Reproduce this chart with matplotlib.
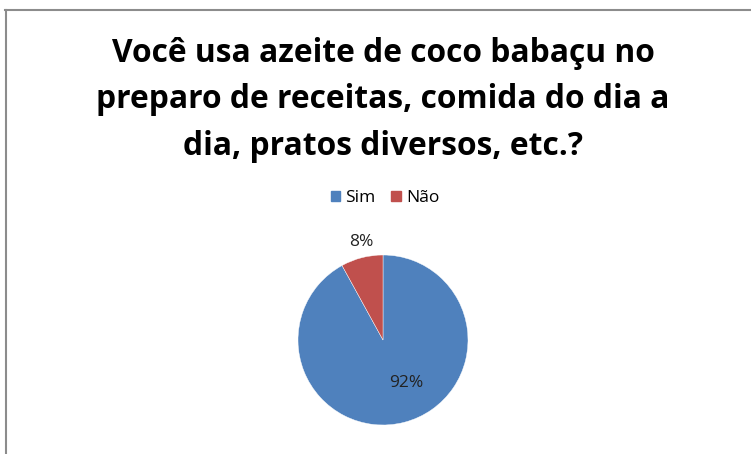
import matplotlib
matplotlib.use("Agg")
import matplotlib.pyplot as plt
from matplotlib.patches import Patch
from matplotlib.lines import Line2D

categories = ["Sim", "Não"]
values = [92, 8]
colors = ["#4F81BD", "#C0504D"]
title = "Você usa azeite de coco babaçu no\npreparo de receitas, comida do dia a\ndia, pratos diversos, etc.?"

W, H = 751, 454
fig = plt.figure(figsize=(W/100, H/100), dpi=100)
fig.patch.set_facecolor("white")

# border lines (top and left)
fig.add_artist(Line2D([5/W, 1], [1-10/H, 1-10/H], color="#8c8c8c", lw=1.5))
fig.add_artist(Line2D([6/W, 6/W], [0, 1-10/H], color="#8c8c8c", lw=1.5))

fig.text(383/W, 1-100/H, title, ha="center", va="center", fontsize=22.9,
         fontweight="bold", family="Open Sans", linespacing=1.53, color="black")

# pie axes: center (383, 340), radius 85
cx, cy, r = 383, 340, 85
ax = fig.add_axes([(cx-r)/W, 1-(cy+r)/H, 2*r/W, 2*r/H])
wedges, _ = ax.pie(values, colors=colors, startangle=90, counterclock=False,
                   radius=1.0, wedgeprops=dict(edgecolor="white", linewidth=0.3))
ax.set_xlim(-1, 1); ax.set_ylim(-1, 1)
ax.set_aspect("equal"); ax.axis("off")

fig.text(406/W, 1-383/H, f"{values[0]}%", ha="center", va="center", fontsize=12.5, family="Open Sans", color="#222222")
fig.text(361/W, 1-242/H, f"{values[1]}%", ha="center", va="center", fontsize=12.5, family="Open Sans", color="#222222")

handles = [Patch(facecolor=c, edgecolor=c) for c in colors]
leg = fig.legend(handles, categories, loc="center", bbox_to_anchor=(385/W, 1-198/H),
                 ncol=2, frameon=False, handlelength=0.55, handleheight=0.55,
                 handletextpad=0.3, columnspacing=0.9, prop=dict(family="Open Sans", size=12.5))

fig.savefig("out.png", dpi=100)
